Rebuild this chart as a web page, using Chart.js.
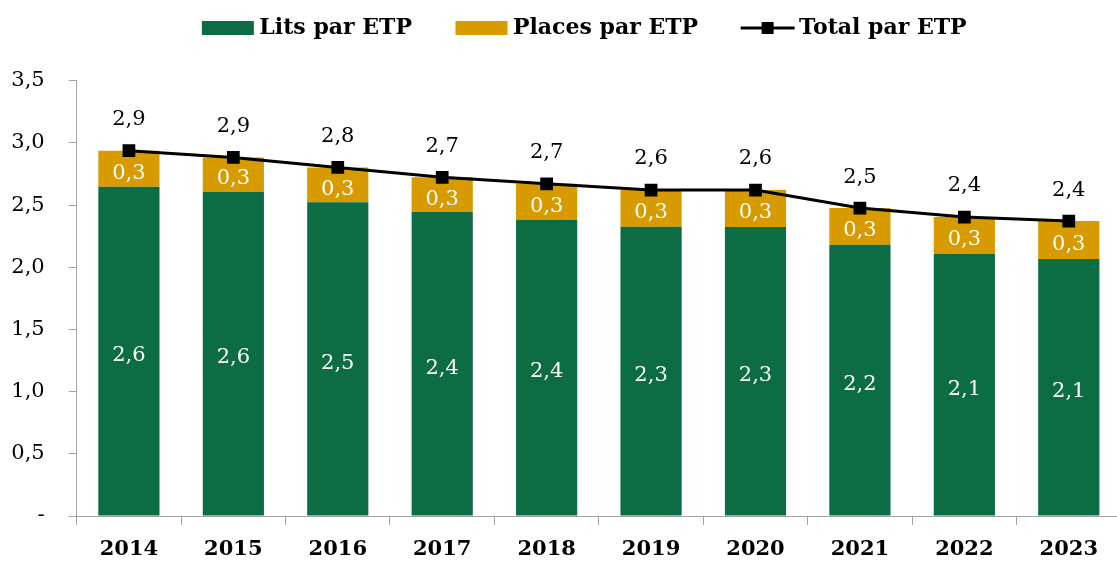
<!DOCTYPE html>
<html>
<head>
<meta charset="utf-8">
<script src="https://cdn.jsdelivr.net/npm/chart.js@4.4.1/dist/chart.umd.min.js"></script>
<style>
  html, body { margin: 0; padding: 0; background: #fff; overflow: hidden; }
  #wrap { width: 1117px; height: 561px; overflow: hidden; }
</style>
</head>
<body>
<div id="wrap"><canvas id="chart" width="1130" height="561"></canvas></div>
<script>
// values
var years = ['2014', '2015', '2016', '2017', '2018', '2019', '2020', '2021', '2022', '2023'];
var lits = [2.647, 2.607, 2.522, 2.444, 2.382, 2.326, 2.323, 2.181, 2.106, 2.066];
var places = [0.290, 0.276, 0.281, 0.279, 0.289, 0.295, 0.298, 0.295, 0.298, 0.305];
var total = [2.937, 2.883, 2.803, 2.723, 2.671, 2.621, 2.621, 2.476, 2.404, 2.371];
var yTickLabels = ['-', '0,5', '1,0', '1,5', '2,0', '2,5', '3,0', '3,5'];

var GREEN = '#0c6c44';
var GOLD = '#d79b00';
var AXIS = '#a3a3a3';
var FONT = '"DejaVu Serif", "Liberation Serif", serif';

function fmt(v) {
    return v.toFixed(1).replace('.', ',');
}

// legend swatches drawn as little canvases (box, or line with a square marker)
function swatch(color, isLine) {
    var c = document.createElement('canvas');
    c.width = 100;
    c.height = 24;
    var g = c.getContext('2d');
    if (isLine) {
        g.strokeStyle = '#000';
        g.lineWidth = 3;
        g.beginPath();
        g.moveTo(45, 12);
        g.lineTo(99, 12);
        g.stroke();
        g.fillStyle = '#000';
        g.fillRect(66, 6, 12, 12);
    } else {
        g.fillStyle = color;
        g.fillRect(46, 5, 52, 14);
    }
    return c;
}

// make room between the legend and the plot
var legendHeight = {
    id: 'legendHeight',
    beforeLayout: function(chart) {
        var lg = chart.legend;
        if (lg && !lg.patched) {
            var fit = lg.fit;
            lg.fit = function() {
                fit.call(this);
                this.height = 68.7;
            };
            lg.patched = true;
        }
    }
};

// value labels on the bars and above the line
var valueLabels = {
    id: 'valueLabels',
    afterDatasetsDraw: function(chart) {
        var ctx = chart.ctx;
        ctx.save();
        ctx.font = '21px ' + FONT;
        ctx.textAlign = 'center';
        ctx.textBaseline = 'middle';
        ctx.fillStyle = '#fff';
        [0, 1].forEach(function(di) {
            var values = chart.data.datasets[di].data;
            chart.getDatasetMeta(di).data.forEach(function(bar, i) {
                var p = bar.getProps(['x', 'y', 'base'], true);
                ctx.fillText(fmt(values[i]), p.x, (p.y + p.base) / 2 + 4.4);
            });
        });
        ctx.fillStyle = '#000';
        chart.getDatasetMeta(2).data.forEach(function(pt, i) {
            ctx.fillText(fmt(total[i]), pt.x, pt.y - 31);
        });
        ctx.restore();
    }
};

var ctx = document.getElementById('chart').getContext('2d');
var chart = new Chart(ctx, {
    type: 'bar',
    data: {
        labels: years,
        datasets: [
            {
                label: 'Lits par ETP',
                data: lits,
                backgroundColor: GREEN,
                stack: 'bars',
                order: 2,
                categoryPercentage: 1,
                barPercentage: 0.586
            },
            {
                label: 'Places par ETP',
                data: places,
                backgroundColor: GOLD,
                stack: 'bars',
                order: 2,
                categoryPercentage: 1,
                barPercentage: 0.586
            },
            {
                type: 'line',
                label: 'Total par ETP',
                data: total,
                borderColor: '#000',
                borderWidth: 3,
                backgroundColor: '#000',
                pointStyle: 'rect',
                pointRadius: 9,
                pointBackgroundColor: '#000',
                pointBorderWidth: 0,
                tension: 0,
                fill: false,
                stack: 'line',
                order: 1
            }
        ]
    },
    options: {
        responsive: false,
        animation: false,
        devicePixelRatio: 1,
        layout: { padding: { top: 12, left: 0, right: 0, bottom: 0 } },
        plugins: {
            tooltip: { enabled: false },
            legend: {
                position: 'top',
                labels: {
                    usePointStyle: true,
                    pointStyleWidth: 85,
                    padding: 5,
                    color: '#000',
                    font: { family: FONT, size: 22, weight: 'bold' },
                    generateLabels: function(chart) {
                        return chart.data.datasets.map(function(ds, i) {
                            return {
                                text: ds.label,
                                datasetIndex: i,
                                hidden: false,
                                fillStyle: i === 2 ? '#000' : ds.backgroundColor,
                                strokeStyle: 'rgba(0,0,0,0)',
                                lineWidth: 0,
                                pointStyle: swatch(ds.backgroundColor, i === 2)
                            };
                        });
                    }
                }
            }
        },
        scales: {
            x: {
                stacked: true,
                offset: true,
                grid: {
                    display: true,
                    offset: true,
                    drawOnChartArea: false,
                    drawTicks: true,
                    tickLength: 9,
                    color: AXIS
                },
                border: { color: AXIS, width: 1 },
                ticks: {
                    color: '#000',
                    font: { family: FONT, size: 21, weight: 'bold' },
                    padding: 12,
                    maxRotation: 0,
                    autoSkip: false
                },
                afterFit: function(scale) { scale.height = 45; }
            },
            y: {
                stacked: true,
                min: 0,
                max: 3.5,
                grid: {
                    display: true,
                    drawOnChartArea: false,
                    drawTicks: true,
                    tickLength: 8,
                    color: AXIS
                },
                border: { color: AXIS, width: 1 },
                ticks: {
                    stepSize: 0.5,
                    color: '#000',
                    font: { family: FONT, size: 21 },
                    padding: 24,
                    callback: function(value, index) { return yTickLabels[index]; }
                },
                afterFit: function(scale) { scale.width = 76.7; }
            }
        }
    },
    plugins: [legendHeight, valueLabels]
});
</script>
</body>
</html>
